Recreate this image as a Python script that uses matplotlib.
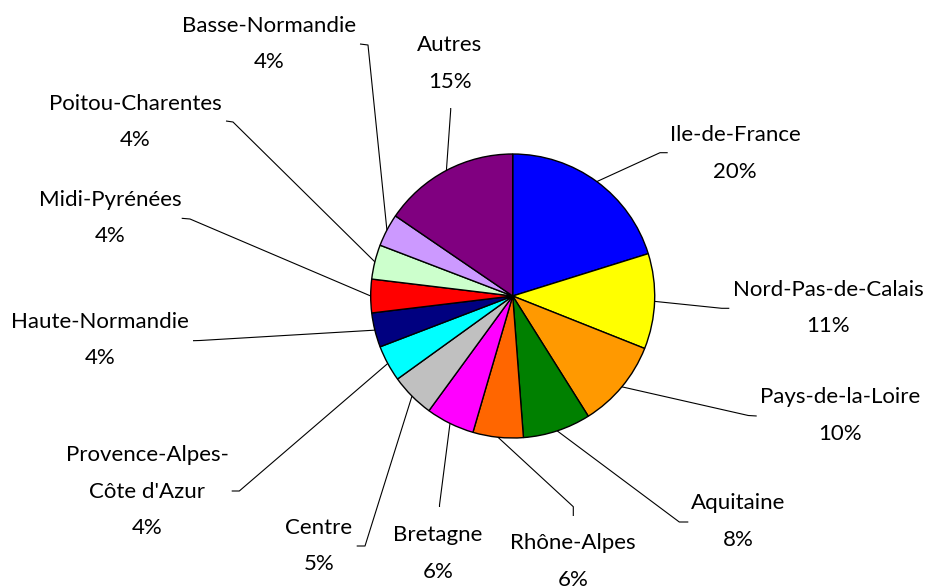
import matplotlib
matplotlib.use("Agg")
import matplotlib.pyplot as plt
import numpy as np

regions = ["Ile-de-France", "Nord-Pas-de-Calais", "Pays-de-la-Loire", "Aquitaine",
           "Rhône-Alpes", "Bretagne", "Centre", "Provence-Alpes-\nCôte d'Azur",
           "Haute-Normandie", "Midi-Pyrénées", "Poitou-Charentes", "Basse-Normandie",
           "Autres"]
shares = [20.1, 10.8, 10.0, 7.7, 5.7, 5.5, 5.0, 4.1, 3.9, 3.8, 3.9, 3.7, 15.4]
colors = ["#0000FF", "#FFFF00", "#FF9900", "#008000", "#FF6600", "#FF00FF",
          "#C0C0C0", "#00FFFF", "#000080", "#FF0000", "#CCFFCC", "#CC99FF", "#800080"]

W, H = 926, 586
fig = plt.figure(figsize=(W / 100, H / 100), dpi=100)
ax = fig.add_axes([0, 0, 1, 1])
ax.set_xlim(0, W)
ax.set_ylim(0, H)
ax.set_aspect("equal")
ax.axis("off")

cx, cy, r = 512.7, H - 296, 142
wedges, _ = ax.pie(shares, colors=colors, startangle=90, counterclock=False,
                   center=(cx, cy), radius=r,
                   wedgeprops=dict(edgecolor="black", linewidth=1.0))
ax.set_xlim(0, W)
ax.set_ylim(0, H)

# layout (pixel coords, y down): elbow, end, text center x, text top y
layout = [
    ((660, 152.7), (667.7, 152.7), 735, 135),
    ((721.7, 308.3), (729.3, 308.3), 828, 290),
    ((748.3, 415.5), (756.7, 416), 840, 397),
    ((679.3, 522), (688.3, 522), 738, 503),
    ((573.3, 506.7), (573.3, 516), 573, 543),
    ((439.5, 505), (439.5, 507), 438, 535),
    ((365, 546), (356.7, 546), 319, 528),
    ((239.3, 491), (231.7, 491), 147, 455),
    ((200, 340.5), (193, 340.7), 100, 322),
    ((190, 219), (181.7, 218.3), 110, 200),
    ((233, 122), (226, 121), 135, 104),
    ((368, 45), (360, 44), 269, 26),
    ((450.7, 110), (450.7, 108), 450, 45),
]

total = sum(shares)
font = "Lato"
fs = 16
spacing = 36.5
for w, name, val, (elb, end, tx, ty) in zip(wedges, regions, shares, layout):
    ang = np.deg2rad((w.theta1 + w.theta2) / 2)
    sx, sy = cx + r * np.cos(ang), cy + r * np.sin(ang)
    ax.plot([sx, elb[0], end[0]], [sy, H - elb[1], H - end[1]],
            color="black", lw=0.8, solid_capstyle="butt")
    lines = name.split("\n") + [f"{round(val / total * 100):d}%"]
    for i, ln in enumerate(lines):
        ax.text(tx, H - (ty + i * spacing), ln, ha="center", va="center",
                fontsize=fs, family=font, color="black")

fig.savefig("out.png", dpi=100)
